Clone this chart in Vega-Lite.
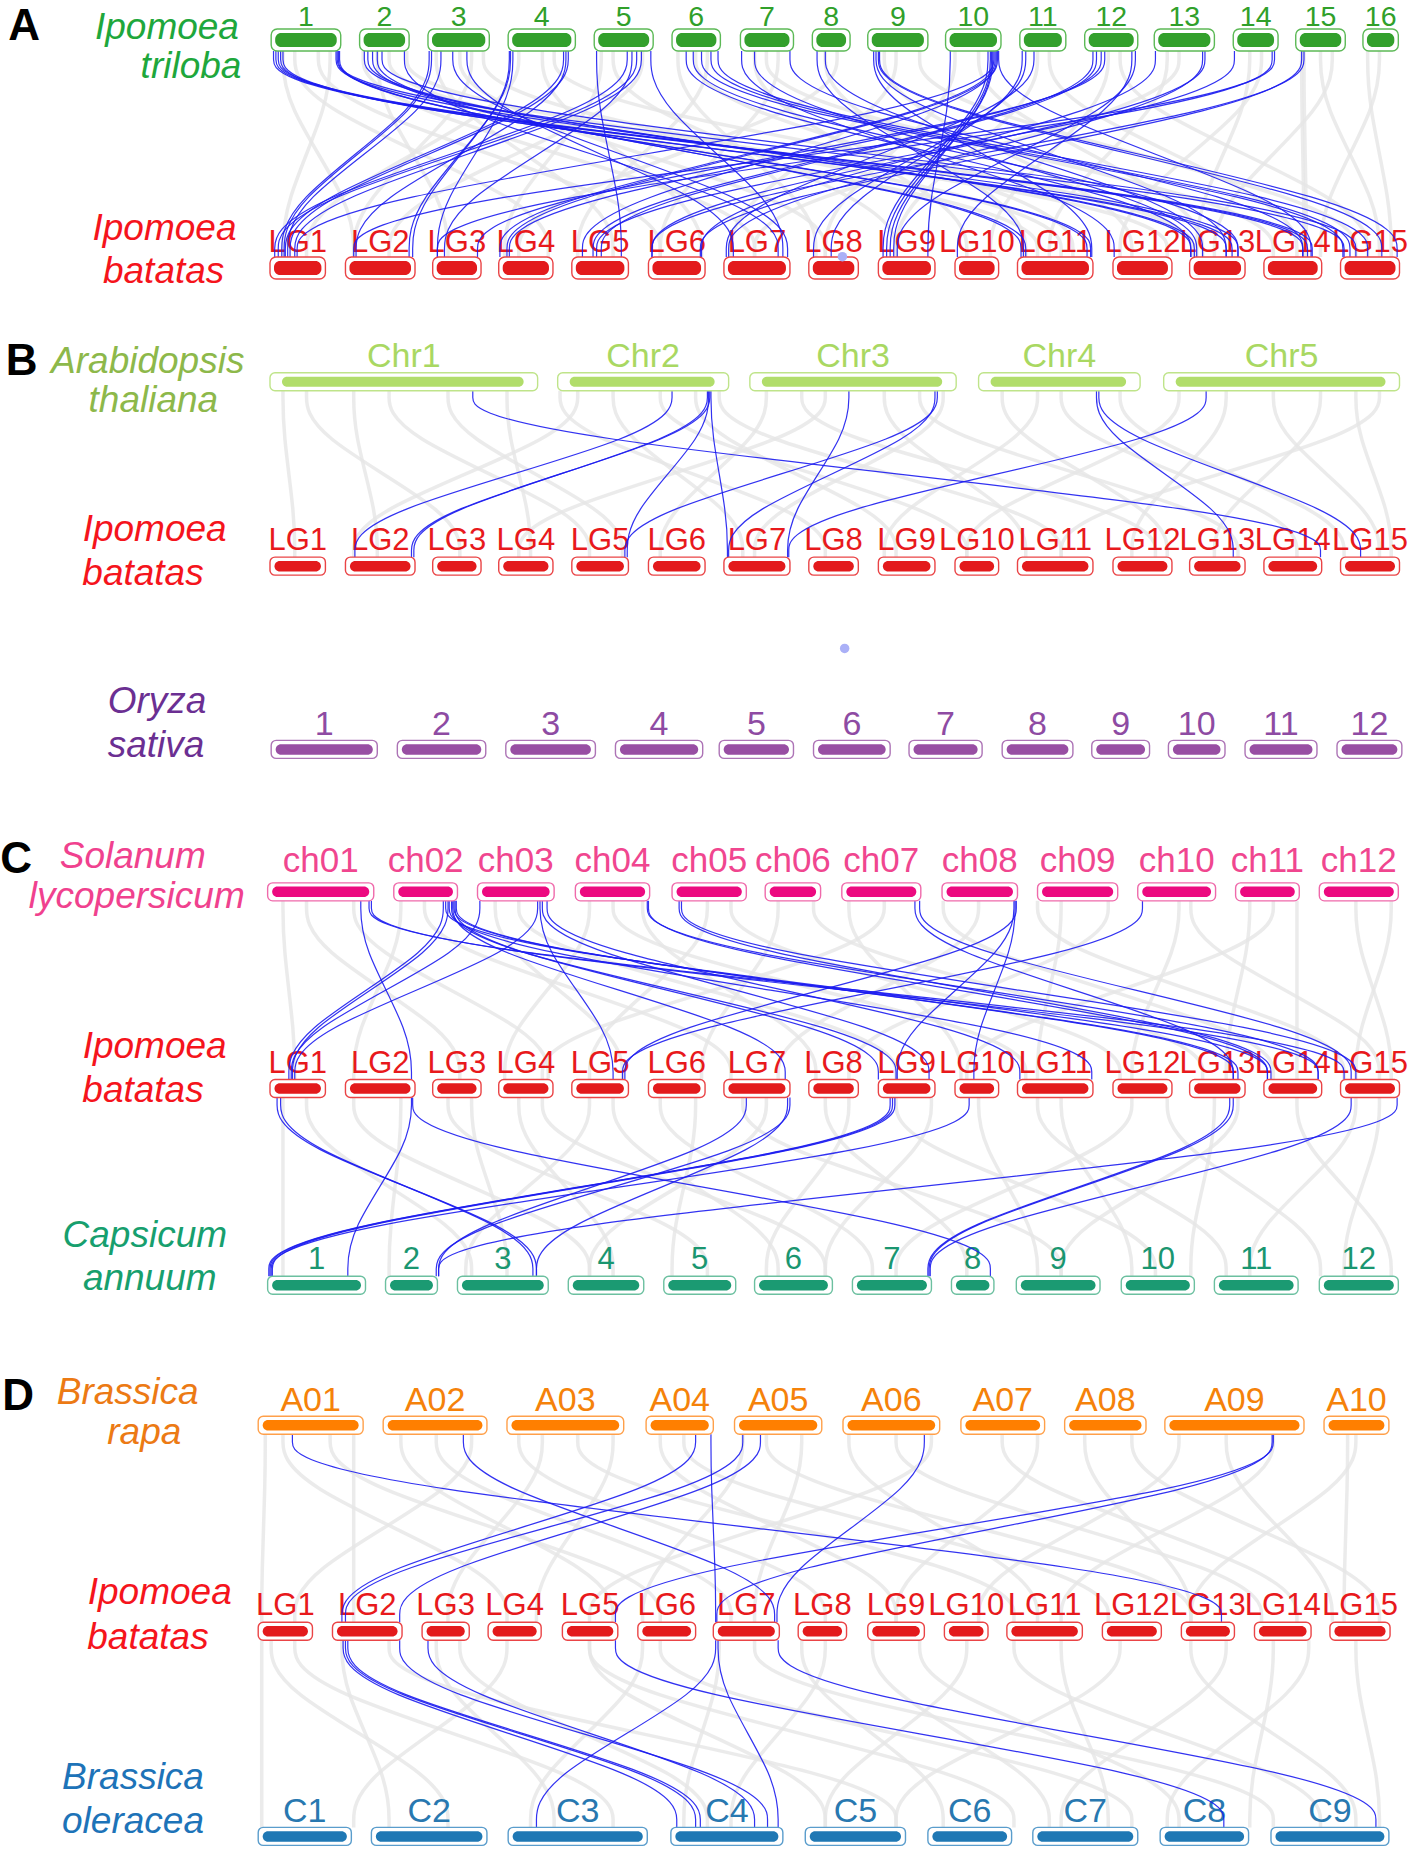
{
"$schema":"https://vega.github.io/schema/vega-lite/v6.json",
"width":1416,"height":1849,"padding":0,"autosize":{"type":"none"},"background":"white",
"config":{"view":{"stroke":null},"font":"Liberation Sans"},
"datasets":{
"sec":[
{"s":"A","ys":[43.2,86.9,174.3,218],"o":[0,1,2,3]},
{"s":"B","ys":[331.3,366.6,437.2,472.5],"o":[0,1,2,3]},
{"s":"C1","ys":[763.9,801.8,877.6,915.5],"o":[0,1,2,3]},
{"s":"C2","ys":[930.7,968.6,1044.4,1082.3],"o":[0,1,2,3]},
{"s":"D1","ys":[1216.3,1256.2,1335.9,1375.8],"o":[0,1,2,3]},
{"s":"D2","ys":[1391,1430.7,1510,1549.7],"o":[0,1,2,3]}
],
"tracks":[
{"tr":"A1","y":33.9},{"tr":"A2","y":227.3},{"tr":"B1","y":323.7},{"tr":"B2","y":480.1},{"tr":"B3","y":635.5},
{"tr":"C1","y":756.3},{"tr":"C2","y":923.1},{"tr":"C3","y":1089.9},{"tr":"D1","y":1208.7},{"tr":"D2","y":1383.4},{"tr":"D3","y":1557.3}
],
"chr":[
{"tr":"A1","sp":"tri","n":"1","a":230,"b":289},{"tr":"A1","sp":"tri","n":"2","a":305,"b":347},{"tr":"A1","sp":"tri","n":"3","a":363,"b":415},{"tr":"A1","sp":"tri","n":"4","a":431,"b":488},
{"tr":"A1","sp":"tri","n":"5","a":504,"b":554},{"tr":"A1","sp":"tri","n":"6","a":570,"b":611},{"tr":"A1","sp":"tri","n":"7","a":628,"b":673},{"tr":"A1","sp":"tri","n":"8","a":689,"b":721},
{"tr":"A1","sp":"tri","n":"9","a":736,"b":787},{"tr":"A1","sp":"tri","n":"10","a":802,"b":849},{"tr":"A1","sp":"tri","n":"11","a":865,"b":904},{"tr":"A1","sp":"tri","n":"12","a":920,"b":965},
{"tr":"A1","sp":"tri","n":"13","a":979,"b":1030},{"tr":"A1","sp":"tri","n":"14","a":1046,"b":1084},{"tr":"A1","sp":"tri","n":"15","a":1099,"b":1141},{"tr":"A1","sp":"tri","n":"16","a":1156,"b":1186},
{"tr":"A2","sp":"bat","n":"LG1","a":229,"b":276},{"tr":"A2","sp":"bat","n":"LG2","a":293,"b":352},{"tr":"A2","sp":"bat","n":"LG3","a":367,"b":408},{"tr":"A2","sp":"bat","n":"LG4","a":423,"b":469},{"tr":"A2","sp":"bat","n":"LG5","a":485,"b":533},
{"tr":"A2","sp":"bat","n":"LG6","a":550,"b":598},{"tr":"A2","sp":"bat","n":"LG7","a":614,"b":670},{"tr":"A2","sp":"bat","n":"LG8","a":686,"b":728},{"tr":"A2","sp":"bat","n":"LG9","a":745,"b":793},{"tr":"A2","sp":"bat","n":"LG10","a":810,"b":847},
{"tr":"A2","sp":"bat","n":"LG11","a":863,"b":927},{"tr":"A2","sp":"bat","n":"LG12","a":944,"b":994},{"tr":"A2","sp":"bat","n":"LG13","a":1009,"b":1056},{"tr":"A2","sp":"bat","n":"LG14","a":1072,"b":1121},{"tr":"A2","sp":"bat","n":"LG15","a":1137,"b":1187},
{"tr":"B1","sp":"ara","n":"Chr1","a":229,"b":456},{"tr":"B1","sp":"ara","n":"Chr2","a":473,"b":618},{"tr":"B1","sp":"ara","n":"Chr3","a":636,"b":811},{"tr":"B1","sp":"ara","n":"Chr4","a":830,"b":967},{"tr":"B1","sp":"ara","n":"Chr5","a":987,"b":1187},
{"tr":"B2","sp":"bat","n":"LG1","a":229,"b":276},{"tr":"B2","sp":"bat","n":"LG2","a":293,"b":352},{"tr":"B2","sp":"bat","n":"LG3","a":367,"b":408},{"tr":"B2","sp":"bat","n":"LG4","a":423,"b":469},{"tr":"B2","sp":"bat","n":"LG5","a":485,"b":533},
{"tr":"B2","sp":"bat","n":"LG6","a":550,"b":598},{"tr":"B2","sp":"bat","n":"LG7","a":614,"b":670},{"tr":"B2","sp":"bat","n":"LG8","a":686,"b":728},{"tr":"B2","sp":"bat","n":"LG9","a":745,"b":793},{"tr":"B2","sp":"bat","n":"LG10","a":810,"b":847},
{"tr":"B2","sp":"bat","n":"LG11","a":863,"b":927},{"tr":"B2","sp":"bat","n":"LG12","a":944,"b":994},{"tr":"B2","sp":"bat","n":"LG13","a":1009,"b":1056},{"tr":"B2","sp":"bat","n":"LG14","a":1072,"b":1121},{"tr":"B2","sp":"bat","n":"LG15","a":1137,"b":1187},
{"tr":"B3","sp":"ory","n":"1","a":230,"b":320},{"tr":"B3","sp":"ory","n":"2","a":337,"b":412},{"tr":"B3","sp":"ory","n":"3","a":429,"b":505},{"tr":"B3","sp":"ory","n":"4","a":522,"b":596},
{"tr":"B3","sp":"ory","n":"5","a":610,"b":673},{"tr":"B3","sp":"ory","n":"6","a":690,"b":755},{"tr":"B3","sp":"ory","n":"7","a":771,"b":833},{"tr":"B3","sp":"ory","n":"8","a":850,"b":910},
{"tr":"B3","sp":"ory","n":"9","a":926,"b":975},{"tr":"B3","sp":"ory","n":"10","a":991,"b":1039},{"tr":"B3","sp":"ory","n":"11","a":1056,"b":1117},{"tr":"B3","sp":"ory","n":"12","a":1134,"b":1189},
{"tr":"C1","sp":"sol","n":"ch01","a":227,"b":317},{"tr":"C1","sp":"sol","n":"ch02","a":334,"b":388},{"tr":"C1","sp":"sol","n":"ch03","a":405,"b":470},{"tr":"C1","sp":"sol","n":"ch04","a":488,"b":551},
{"tr":"C1","sp":"sol","n":"ch05","a":570,"b":633},{"tr":"C1","sp":"sol","n":"ch06","a":649,"b":696},{"tr":"C1","sp":"sol","n":"ch07","a":714,"b":781},{"tr":"C1","sp":"sol","n":"ch08","a":799,"b":863},
{"tr":"C1","sp":"sol","n":"ch09","a":880,"b":948},{"tr":"C1","sp":"sol","n":"ch10","a":965,"b":1031},{"tr":"C1","sp":"sol","n":"ch11","a":1048,"b":1102},{"tr":"C1","sp":"sol","n":"ch12","a":1119,"b":1186},
{"tr":"C2","sp":"bat","n":"LG1","a":229,"b":276},{"tr":"C2","sp":"bat","n":"LG2","a":293,"b":352},{"tr":"C2","sp":"bat","n":"LG3","a":367,"b":408},{"tr":"C2","sp":"bat","n":"LG4","a":423,"b":469},{"tr":"C2","sp":"bat","n":"LG5","a":485,"b":533},
{"tr":"C2","sp":"bat","n":"LG6","a":550,"b":598},{"tr":"C2","sp":"bat","n":"LG7","a":614,"b":670},{"tr":"C2","sp":"bat","n":"LG8","a":686,"b":728},{"tr":"C2","sp":"bat","n":"LG9","a":745,"b":793},{"tr":"C2","sp":"bat","n":"LG10","a":810,"b":847},
{"tr":"C2","sp":"bat","n":"LG11","a":863,"b":927},{"tr":"C2","sp":"bat","n":"LG12","a":944,"b":994},{"tr":"C2","sp":"bat","n":"LG13","a":1009,"b":1056},{"tr":"C2","sp":"bat","n":"LG14","a":1072,"b":1121},{"tr":"C2","sp":"bat","n":"LG15","a":1137,"b":1187},
{"tr":"C3","sp":"cap","n":"1","a":227,"b":310},{"tr":"C3","sp":"cap","n":"2","a":327,"b":371},{"tr":"C3","sp":"cap","n":"3","a":388,"b":465},{"tr":"C3","sp":"cap","n":"4","a":482,"b":546},
{"tr":"C3","sp":"cap","n":"5","a":563,"b":624},{"tr":"C3","sp":"cap","n":"6","a":640,"b":706},{"tr":"C3","sp":"cap","n":"7","a":723,"b":790},{"tr":"C3","sp":"cap","n":"8","a":807,"b":843},
{"tr":"C3","sp":"cap","n":"9","a":862,"b":933},{"tr":"C3","sp":"cap","n":"10","a":951,"b":1013},{"tr":"C3","sp":"cap","n":"11","a":1030,"b":1101},{"tr":"C3","sp":"cap","n":"12","a":1119,"b":1186},
{"tr":"D1","sp":"rap","n":"A01","a":219,"b":308},{"tr":"D1","sp":"rap","n":"A02","a":325,"b":413},{"tr":"D1","sp":"rap","n":"A03","a":430,"b":529},{"tr":"D1","sp":"rap","n":"A04","a":548,"b":605},{"tr":"D1","sp":"rap","n":"A05","a":623,"b":697},
{"tr":"D1","sp":"rap","n":"A06","a":715,"b":797},{"tr":"D1","sp":"rap","n":"A07","a":815,"b":886},{"tr":"D1","sp":"rap","n":"A08","a":903,"b":972},{"tr":"D1","sp":"rap","n":"A09","a":988,"b":1106},{"tr":"D1","sp":"rap","n":"A10","a":1123,"b":1178},
{"tr":"D2","sp":"bat","n":"LG1","a":219,"b":265},{"tr":"D2","sp":"bat","n":"LG2","a":282,"b":341},{"tr":"D2","sp":"bat","n":"LG3","a":358,"b":398},{"tr":"D2","sp":"bat","n":"LG4","a":414,"b":459},{"tr":"D2","sp":"bat","n":"LG5","a":477,"b":524},
{"tr":"D2","sp":"bat","n":"LG6","a":541,"b":590},{"tr":"D2","sp":"bat","n":"LG7","a":605,"b":661},{"tr":"D2","sp":"bat","n":"LG8","a":677,"b":718},{"tr":"D2","sp":"bat","n":"LG9","a":736,"b":784},{"tr":"D2","sp":"bat","n":"LG10","a":801,"b":838},
{"tr":"D2","sp":"bat","n":"LG11","a":854,"b":918},{"tr":"D2","sp":"bat","n":"LG12","a":935,"b":985},{"tr":"D2","sp":"bat","n":"LG13","a":1002,"b":1047},{"tr":"D2","sp":"bat","n":"LG14","a":1064,"b":1112},{"tr":"D2","sp":"bat","n":"LG15","a":1128,"b":1179},
{"tr":"D3","sp":"ole","n":"C1","a":219,"b":298},{"tr":"D3","sp":"ole","n":"C2","a":315,"b":413},{"tr":"D3","sp":"ole","n":"C3","a":431,"b":549},{"tr":"D3","sp":"ole","n":"C4","a":569,"b":664},{"tr":"D3","sp":"ole","n":"C5","a":683,"b":768},
{"tr":"D3","sp":"ole","n":"C6","a":787,"b":858},{"tr":"D3","sp":"ole","n":"C7","a":876,"b":965},{"tr":"D3","sp":"ole","n":"C8","a":984,"b":1059},{"tr":"D3","sp":"ole","n":"C9","a":1078,"b":1178}
],
"grey":[
{"s":"A","x":[240,240,300,300]},{"s":"A","x":[250,250,465,465]},{"s":"A","x":[270,270,560,560]},{"s":"A","x":[280,280,240,240]},{"s":"A","x":[308,308,640,640]},
{"s":"A","x":[320,320,380,380]},{"s":"A","x":[330,330,880,880]},{"s":"A","x":[345,345,990,990]},{"s":"A","x":[370,370,520,520]},{"s":"A","x":[390,390,700,700]},
{"s":"A","x":[400,400,300,300]},{"s":"A","x":[410,410,900,900]},{"s":"A","x":[440,440,260,260]},{"s":"A","x":[460,460,595,595]},{"s":"A","x":[470,470,1012,1012]},
{"s":"A","x":[510,510,428,428]},{"s":"A","x":[520,520,760,760]},{"s":"A","x":[545,545,330,330]},{"s":"A","x":[575,575,692,692]},{"s":"A","x":[590,590,910,910]},
{"s":"A","x":[600,600,490,490]},{"s":"A","x":[640,640,820,820]},{"s":"A","x":[650,650,1080,1080]},{"s":"A","x":[660,660,560,560]},{"s":"A","x":[700,700,870,870]},
{"s":"A","x":[710,710,440,440]},{"s":"A","x":[750,750,960,960]},{"s":"A","x":[760,760,620,620]},{"s":"A","x":[780,780,1150,1150]},{"s":"A","x":[810,810,700,700]},
{"s":"A","x":[830,830,1020,1020]},{"s":"A","x":[880,880,760,760]},{"s":"A","x":[890,890,1100,1100]},{"s":"A","x":[940,940,840,840]},{"s":"A","x":[950,950,1160,1160]},
{"s":"A","x":[990,990,890,890]},{"s":"A","x":[1000,1000,640,640]},{"s":"A","x":[1060,1060,1015,1015]},{"s":"A","x":[1070,1070,950,950]},{"s":"A","x":[1104,1104,1106,1106]},
{"s":"A","x":[1106,1106,1108,1108]},{"s":"A","x":[1120,1120,1170,1170]},{"s":"A","x":[1130,1130,1030,1030]},{"s":"A","x":[1160,1160,1180,1180]},{"s":"A","x":[1170,1170,1120,1120]},
{"s":"B","x":[240,240,250,250]},{"s":"B","x":[260,260,390,390]},{"s":"B","x":[300,300,320,320]},{"s":"B","x":[330,330,500,500]},{"s":"B","x":[380,380,528,528]},
{"s":"B","x":[430,430,450,450]},{"s":"B","x":[475,475,700,700]},{"s":"B","x":[490,490,300,300]},{"s":"B","x":[520,520,630,630]},{"s":"B","x":[560,560,820,820]},
{"s":"B","x":[590,590,760,760]},{"s":"B","x":[610,610,900,900]},{"s":"B","x":[650,650,560,560]},{"s":"B","x":[680,680,980,980]},{"s":"B","x":[700,700,440,440]},
{"s":"B","x":[750,750,870,870]},{"s":"B","x":[780,780,1050,1050]},{"s":"B","x":[800,800,640,640]},{"s":"B","x":[850,850,990,990]},{"s":"B","x":[880,880,750,750]},
{"s":"B","x":[900,900,1100,1100]},{"s":"B","x":[950,950,1140,1140]},{"s":"B","x":[1000,1000,820,820]},{"s":"B","x":[1040,1040,960,960]},{"s":"B","x":[1080,1080,1170,1170]},
{"s":"B","x":[1120,1120,1030,1030]},{"s":"B","x":[1150,1150,1180,1180]},{"s":"B","x":[1170,1170,900,900]},
{"s":"C1","x":[240,240,250,250]},{"s":"C1","x":[260,260,390,390]},{"s":"C1","x":[300,300,465,465]},{"s":"C1","x":[340,340,300,300]},{"s":"C1","x":[360,360,620,620]},
{"s":"C1","x":[420,420,528,528]},{"s":"C1","x":[440,440,760,760]},{"s":"C1","x":[500,500,428,428]},{"s":"C1","x":[520,520,870,870]},{"s":"C1","x":[545,545,692,692]},
{"s":"C1","x":[600,600,500,500]},{"s":"C1","x":[620,620,950,950]},{"s":"C1","x":[660,660,595,595]},{"s":"C1","x":[690,690,1020,1020]},{"s":"C1","x":[720,720,815,815]},
{"s":"C1","x":[750,750,460,460]},{"s":"C1","x":[800,800,1080,1080]},{"s":"C1","x":[830,830,660,660]},{"s":"C1","x":[880,880,1140,1140]},{"s":"C1","x":[900,900,880,880]},
{"s":"C1","x":[940,940,720,720]},{"s":"C1","x":[1000,1000,960,960]},{"s":"C1","x":[1010,1010,1170,1170]},{"s":"C1","x":[1060,1060,1040,1040]},{"s":"C1","x":[1080,1080,820,820]},
{"s":"C1","x":[1100,1100,1100,1100]},{"s":"C1","x":[1150,1150,1180,1180]},{"s":"C1","x":[1180,1180,1150,1150]},
{"s":"C2","x":[240,240,240,240]},{"s":"C2","x":[260,260,400,400]},{"s":"C2","x":[300,300,500,500]},{"s":"C2","x":[340,340,330,330]},{"s":"C2","x":[380,380,600,600]},
{"s":"C2","x":[400,400,430,430]},{"s":"C2","x":[440,440,520,520]},{"s":"C2","x":[460,460,700,700]},{"s":"C2","x":[500,500,395,395]},{"s":"C2","x":[520,520,660,660]},
{"s":"C2","x":[560,560,740,740]},{"s":"C2","x":[590,590,570,570]},{"s":"C2","x":[630,630,900,900]},{"s":"C2","x":[650,650,500,500]},{"s":"C2","x":[700,700,820,820]},
{"s":"C2","x":[720,720,650,650]},{"s":"C2","x":[760,760,980,980]},{"s":"C2","x":[790,790,700,700]},{"s":"C2","x":[830,830,880,880]},{"s":"C2","x":[880,880,1040,1040]},
{"s":"C2","x":[900,900,960,960]},{"s":"C2","x":[960,960,760,760]},{"s":"C2","x":[990,990,1120,1120]},{"s":"C2","x":[1030,1030,1010,1010]},{"s":"C2","x":[1050,1050,900,900]},
{"s":"C2","x":[1100,1100,1180,1180]},{"s":"C2","x":[1150,1150,1060,1060]},{"s":"C2","x":[1170,1170,1140,1140]},
{"s":"D1","x":[225,225,222,222]},{"s":"D1","x":[240,240,430,430]},{"s":"D1","x":[280,280,560,560]},{"s":"D1","x":[300,300,300,300]},{"s":"D1","x":[340,340,520,520]},
{"s":"D1","x":[370,370,620,620]},{"s":"D1","x":[400,400,250,250]},{"s":"D1","x":[440,440,700,700]},{"s":"D1","x":[460,460,380,380]},{"s":"D1","x":[490,490,860,860]},
{"s":"D1","x":[520,520,455,455]},{"s":"D1","x":[560,560,760,760]},{"s":"D1","x":[580,580,940,940]},{"s":"D1","x":[630,630,545,545]},{"s":"D1","x":[650,650,1010,1010]},
{"s":"D1","x":[680,680,640,640]},{"s":"D1","x":[720,720,880,880]},{"s":"D1","x":[760,760,1070,1070]},{"s":"D1","x":[790,790,500,500]},{"s":"D1","x":[850,850,1100,1100]},
{"s":"D1","x":[880,880,760,760]},{"s":"D1","x":[920,920,1010,1010]},{"s":"D1","x":[960,960,1170,1170]},{"s":"D1","x":[1000,1000,830,830]},{"s":"D1","x":[1040,1040,1130,1130]},
{"s":"D1","x":[1080,1080,900,900]},{"s":"D1","x":[1143,1143,1140,1140]},{"s":"D1","x":[1150,1150,1010,1010]},
{"s":"D2","x":[222,222,222,222]},{"s":"D2","x":[230,230,380,380]},{"s":"D2","x":[250,250,520,520]},{"s":"D2","x":[290,290,330,330]},{"s":"D2","x":[330,330,760,760]},
{"s":"D2","x":[370,370,470,470]},{"s":"D2","x":[390,390,600,600]},{"s":"D2","x":[430,430,300,300]},{"s":"D2","x":[500,500,860,860]},{"s":"D2","x":[500,500,700,700]},
{"s":"D2","x":[545,545,450,450]},{"s":"D2","x":[560,560,960,960]},{"s":"D2","x":[610,610,580,580]},{"s":"D2","x":[640,640,1080,1080]},{"s":"D2","x":[680,680,800,800]},
{"s":"D2","x":[700,700,620,620]},{"s":"D2","x":[740,740,890,890]},{"s":"D2","x":[780,780,1000,1000]},{"s":"D2","x":[820,820,700,700]},{"s":"D2","x":[860,860,1120,1120]},
{"s":"D2","x":[900,900,940,940]},{"s":"D2","x":[950,950,760,760]},{"s":"D2","x":[1010,1010,1150,1150]},{"s":"D2","x":[1040,1040,900,900]},{"s":"D2","x":[1080,1080,1060,1060]},
{"s":"D2","x":[1110,1110,990,990]},{"s":"D2","x":[1150,1150,1170,1170]}
],
"blue":[
{"s":"A","x":[232,232,1105,1105]},{"s":"A","x":[234,234,1109,1109]},{"s":"A","x":[236,236,1113,1113]},{"s":"A","x":[238,238,1045,1045]},{"s":"A","x":[240,240,1040,1040]},
{"s":"A","x":[285,285,1050,1050]},{"s":"A","x":[287,287,925,925]},{"s":"A","x":[288,288,922,922]},{"s":"A","x":[286,286,1140,1140]},{"s":"A","x":[309,309,1010,1010]},
{"s":"A","x":[312,312,1013,1013]},{"s":"A","x":[316,316,870,870]},{"s":"A","x":[320,320,866,866]},{"s":"A","x":[324,324,1150,1150]},{"s":"A","x":[343,343,660,660]},
{"s":"A","x":[364,364,239,239]},{"s":"A","x":[366,366,241,241]},{"s":"A","x":[374,374,244,244]},{"s":"A","x":[384,384,668,668]},{"s":"A","x":[396,396,622,622]},
{"s":"A","x":[432,432,350,350]},{"s":"A","x":[433,433,347,347]},{"s":"A","x":[435,435,371,371]},{"s":"A","x":[478,478,242,242]},{"s":"A","x":[480,480,302,302]},
{"s":"A","x":[482,482,246,246]},{"s":"A","x":[506,506,527,527]},{"s":"A","x":[532,532,233,233]},{"s":"A","x":[536,536,377,377]},{"s":"A","x":[540,540,236,236]},
{"s":"A","x":[544,544,250,250]},{"s":"A","x":[552,552,664,664]},{"s":"A","x":[582,582,1010,1010]},{"s":"A","x":[588,588,1050,1050]},{"s":"A","x":[595,595,1139,1139]},
{"s":"A","x":[603,603,1145,1145]},{"s":"A","x":[609,609,1160,1160]},{"s":"A","x":[629,629,945,945]},{"s":"A","x":[640,640,1015,1015]},{"s":"A","x":[670,670,1105,1105]},
{"s":"A","x":[693,693,868,868]},{"s":"A","x":[700,700,1020,1020]},{"s":"A","x":[741,741,926,926]},{"s":"A","x":[743,743,1040,1040]},{"s":"A","x":[746,746,1185,1185]},
{"s":"A","x":[745,745,1172,1172]},{"s":"A","x":[806,806,787,787]},{"s":"A","x":[838,838,749,749]},{"s":"A","x":[840,840,752,752]},{"s":"A","x":[842,842,755,755]},
{"s":"A","x":[843,843,252,252]},{"s":"A","x":[844,844,424,424]},{"s":"A","x":[845,845,494,494]},{"s":"A","x":[846,846,430,430]},{"s":"A","x":[847,847,1112,1112]},
{"s":"A","x":[841,841,758,758]},{"s":"A","x":[867,867,705,705]},{"s":"A","x":[870,870,690,690]},{"s":"A","x":[877,877,616,616]},{"s":"A","x":[927,927,503,503]},
{"s":"A","x":[930,930,510,510]},{"s":"A","x":[934,934,432,432]},{"s":"A","x":[937,937,405,405]},{"s":"A","x":[963,963,761,761]},{"s":"A","x":[960,960,812,812]},
{"s":"A","x":[980,980,595,595]},{"s":"A","x":[1022,1022,553,553]},{"s":"A","x":[1020,1020,618,618]},{"s":"A","x":[1047,1047,506,506]},{"s":"A","x":[1079,1079,371,371]},
{"s":"A","x":[1081,1081,300,300]},{"s":"A","x":[1104,1104,594,594]},{"s":"A","x":[1106,1106,553,553]},
{"s":"B","x":[401,401,1120,1120]},{"s":"B","x":[570,570,301,301]},{"s":"B","x":[600,600,351,351]},{"s":"B","x":[602,602,349,349]},{"s":"B","x":[601,601,532,532]},
{"s":"B","x":[603,603,617,617]},{"s":"B","x":[720,720,668,668]},{"s":"B","x":[793,793,618,618]},{"s":"B","x":[795,795,530,530]},{"s":"B","x":[1023,1023,669,669]},
{"s":"B","x":[930,930,1046,1046]},{"s":"B","x":[932,932,1154,1154]},
{"s":"C1","x":[306,306,349,349]},{"s":"C1","x":[313,313,1140,1140]},{"s":"C1","x":[315,315,1118,1118]},{"s":"C1","x":[376,376,245,245]},{"s":"C1","x":[380,380,248,248]},
{"s":"C1","x":[383,383,760,760]},{"s":"C1","x":[385,385,1050,1050]},{"s":"C1","x":[387,387,1046,1046]},{"s":"C1","x":[378,378,1075,1075]},{"s":"C1","x":[381,381,926,926]},
{"s":"C1","x":[384,384,666,666]},{"s":"C1","x":[386,386,745,745]},{"s":"C1","x":[407,407,247,247]},{"s":"C1","x":[456,456,250,250]},{"s":"C1","x":[458,458,520,520]},
{"s":"C1","x":[460,460,788,788]},{"s":"C1","x":[464,464,865,865]},{"s":"C1","x":[549,549,1118,1118]},{"s":"C1","x":[550,550,1075,1075]},{"s":"C1","x":[576,576,1078,1078]},
{"s":"C1","x":[578,578,1150,1150]},{"s":"C1","x":[776,776,1046,1046]},{"s":"C1","x":[780,780,1146,1146]},{"s":"C1","x":[860,860,761,761]},{"s":"C1","x":[861,861,826,826]},
{"s":"C1","x":[862,862,530,530]},{"s":"C1","x":[969,969,528,528]},
{"s":"C2","x":[235,235,455,455]},{"s":"C2","x":[238,238,452,452]},{"s":"C2","x":[349,349,295,295]},{"s":"C2","x":[350,350,840,840]},{"s":"C2","x":[633,633,372,372]},
{"s":"C2","x":[668,668,455,455]},{"s":"C2","x":[755,755,228,228]},{"s":"C2","x":[757,757,229,229]},{"s":"C2","x":[759,759,231,231]},{"s":"C2","x":[822,822,230,230]},
{"s":"C2","x":[1043,1043,787,787]},{"s":"C2","x":[1046,1046,788,788]},{"s":"C2","x":[1146,1146,789,789]},{"s":"C2","x":[1185,1185,372,372]},{"s":"C2","x":[670,670,370,370]},
{"s":"D1","x":[248,248,1036,1036]},{"s":"D1","x":[393,393,657,657]},{"s":"D1","x":[590,590,290,290]},{"s":"D1","x":[603,603,607,607]},{"s":"D1","x":[630,630,293,293]},
{"s":"D1","x":[645,645,339,339]},{"s":"D1","x":[784,784,659,659]},{"s":"D1","x":[1079,1079,608,608]},{"s":"D1","x":[1080,1080,522,522]},
{"s":"D2","x":[291,291,574,574]},{"s":"D2","x":[293,293,590,590]},{"s":"D2","x":[295,295,594,594]},{"s":"D2","x":[339,339,651,651]},{"s":"D2","x":[363,363,640,640]},
{"s":"D2","x":[522,522,1038,1038]},{"s":"D2","x":[660,660,1167,1167]},{"s":"D2","x":[607,607,455,455]},{"s":"D2","x":[609,609,660,660]}
],
"spl":[
{"t":"Ipomoea","x":141.6,"y":33.3,"sp":"tri"},{"t":"triloba","x":162,"y":66.4,"sp":"tri"},
{"t":"Ipomoea","x":139.5,"y":203.6,"sp":"bat"},{"t":"batatas","x":138.8,"y":240.3,"sp":"bat"},
{"t":"Arabidopsis","x":125.3,"y":316.6,"sp":"ara"},{"t":"thaliana","x":130.1,"y":349.2,"sp":"ara"},
{"t":"Ipomoea","x":131.2,"y":459,"sp":"bat"},{"t":"batatas","x":121.3,"y":496.2,"sp":"bat"},
{"t":"Oryza","x":133.2,"y":605,"sp":"ory"},{"t":"sativa","x":132.3,"y":641.8,"sp":"ory"},
{"t":"Solanum","x":112.6,"y":736.5,"sp":"sol"},{"t":"lycopersicum","x":116,"y":770.4,"sp":"sol"},
{"t":"Ipomoea","x":131.2,"y":897.6,"sp":"bat"},{"t":"batatas","x":121.3,"y":934.4,"sp":"bat"},
{"t":"Capsicum","x":122.8,"y":1057.4,"sp":"cap"},{"t":"annuum","x":127,"y":1094.2,"sp":"cap"},
{"t":"Brassica","x":108.3,"y":1190.3,"sp":"rap"},{"t":"rapa","x":122.4,"y":1224.2,"sp":"rap"},
{"t":"Ipomoea","x":135.5,"y":1359.9,"sp":"bat"},{"t":"batatas","x":125.5,"y":1398.1,"sp":"bat"},
{"t":"Brassica","x":112.8,"y":1516.8,"sp":"ole"},{"t":"oleracea","x":112.8,"y":1554.1,"sp":"ole"}
],
"letters":[{"t":"A","x":20.4,"y":34},{"t":"B","x":18.3,"y":318},{"t":"C","x":13.6,"y":740.7},{"t":"D","x":15.3,"y":1196}],
"dots":[{"x":714.5,"y":217.7},{"x":716.4,"y":549.9}]
},
"layer":[
{"data":{"name":"grey"},
 "transform":[{"window":[{"op":"row_number","as":"id"}]},{"lookup":"s","from":{"data":{"name":"sec"},"key":"s","fields":["ys","o"]}},{"flatten":["x","ys","o"],"as":["px","py","po"]}],
 "mark":{"type":"line","interpolate":"basis","color":"#e6e6e6","strokeWidth":3.5,"opacity":0.8},
 "encoding":{"x":{"field":"px","type":"quantitative","scale":{"domain":[0,1201],"nice":false,"zero":false},"axis":null},
  "y":{"field":"py","type":"quantitative","scale":{"domain":[0,1568],"reverse":true,"nice":false,"zero":false},"axis":null},
  "detail":{"field":"id","type":"nominal"},"order":{"field":"po","type":"quantitative"}}},
{"data":{"name":"chr"},
 "transform":[{"filter":{"field":"sp","equal":"tri"}},{"lookup":"tr","from":{"data":{"name":"tracks"},"key":"tr","fields":["y"]}},{"fold":["a","b"],"as":["k","xv"]}],
 "mark":{"type":"text","fontSize":28.5,"dy":-14,"baseline":"alphabetic","align":"center","font":"Liberation Sans"},
 "encoding":{"x":{"aggregate":"mean","field":"xv","type":"quantitative","scale":{"domain":[0,1201],"nice":false,"zero":false},"axis":null},
  "y":{"field":"y","type":"quantitative","scale":{"domain":[0,1568],"reverse":true,"nice":false,"zero":false},"axis":null},
  "detail":{"field":"tr","type":"nominal"},"text":{"field":"n","type":"nominal"},
  "color":{"field":"sp","type":"nominal","scale":{"domain":["tri"],"range":["#30a02a"]},"legend":null}}},
{"data":{"name":"chr"},
 "transform":[{"filter":{"field":"sp","oneOf":["bat","cap"]}},{"lookup":"tr","from":{"data":{"name":"tracks"},"key":"tr","fields":["y"]}},{"fold":["a","b"],"as":["k","xv"]}],
 "mark":{"type":"text","fontSize":31,"dy":-16,"baseline":"alphabetic","align":"center","font":"Liberation Sans"},
 "encoding":{"x":{"aggregate":"mean","field":"xv","type":"quantitative","scale":{"domain":[0,1201],"nice":false,"zero":false},"axis":null},
  "y":{"field":"y","type":"quantitative","scale":{"domain":[0,1568],"reverse":true,"nice":false,"zero":false},"axis":null},
  "detail":{"field":"tr","type":"nominal"},"text":{"field":"n","type":"nominal"},
  "color":{"field":"sp","type":"nominal","scale":{"domain":["bat","cap"],"range":["#e8191c","#1a9670"]},"legend":null}}},
{"data":{"name":"chr"},
 "transform":[{"filter":{"field":"sp","oneOf":["ara","ory","rap","ole"]}},{"lookup":"tr","from":{"data":{"name":"tracks"},"key":"tr","fields":["y"]}},{"fold":["a","b"],"as":["k","xv"]}],
 "mark":{"type":"text","fontSize":34,"dy":-14.5,"baseline":"alphabetic","align":"center","font":"Liberation Sans"},
 "encoding":{"x":{"aggregate":"mean","field":"xv","type":"quantitative","scale":{"domain":[0,1201],"nice":false,"zero":false},"axis":null},
  "y":{"field":"y","type":"quantitative","scale":{"domain":[0,1568],"reverse":true,"nice":false,"zero":false},"axis":null},
  "detail":{"field":"tr","type":"nominal"},"text":{"field":"n","type":"nominal"},
  "color":{"field":"sp","type":"nominal","scale":{"domain":["ara","ory","rap","ole"],"range":["#a9d862","#8e4ba3","#f5820a","#2878b0"]},"legend":null}}},
{"data":{"name":"chr"},
 "transform":[{"filter":{"field":"sp","equal":"sol"}},{"lookup":"tr","from":{"data":{"name":"tracks"},"key":"tr","fields":["y"]}},{"fold":["a","b"],"as":["k","xv"]}],
 "mark":{"type":"text","fontSize":35,"dy":-20,"baseline":"alphabetic","align":"center","font":"Liberation Sans"},
 "encoding":{"x":{"aggregate":"mean","field":"xv","type":"quantitative","scale":{"domain":[0,1201],"nice":false,"zero":false},"axis":null},
  "y":{"field":"y","type":"quantitative","scale":{"domain":[0,1568],"reverse":true,"nice":false,"zero":false},"axis":null},
  "detail":{"field":"tr","type":"nominal"},"text":{"field":"n","type":"nominal"},
  "color":{"field":"sp","type":"nominal","scale":{"domain":["sol"],"range":["#f0468f"]},"legend":null}}},
{"data":{"name":"blue"},
 "transform":[{"window":[{"op":"row_number","as":"id"}]},{"lookup":"s","from":{"data":{"name":"sec"},"key":"s","fields":["ys","o"]}},{"flatten":["x","ys","o"],"as":["px","py","po"]}],
 "mark":{"type":"line","interpolate":"basis","color":"#1c1cf0","strokeWidth":1.2,"opacity":0.9},
 "encoding":{"x":{"field":"px","type":"quantitative","scale":{"domain":[0,1201],"nice":false,"zero":false},"axis":null},
  "y":{"field":"py","type":"quantitative","scale":{"domain":[0,1568],"reverse":true,"nice":false,"zero":false},"axis":null},
  "detail":{"field":"id","type":"nominal"},"order":{"field":"po","type":"quantitative"}}},
{"data":{"name":"chr"},
 "transform":[{"filter":{"field":"tr","oneOf":["A1","A2"]}},{"lookup":"tr","from":{"data":{"name":"tracks"},"key":"tr","fields":["y"]}}],
 "mark":{"type":"rect","height":22,"cornerRadius":6,"fill":"white","strokeWidth":1.4},
 "encoding":{"x":{"field":"a","type":"quantitative","scale":{"domain":[0,1201],"nice":false,"zero":false},"axis":null},"x2":{"field":"b"},
  "y":{"field":"y","type":"quantitative","scale":{"domain":[0,1568],"reverse":true,"nice":false,"zero":false},"axis":null},
  "stroke":{"field":"sp","type":"nominal","scale":{"domain":["tri","bat","ara","ory","sol","cap","rap","ole"],"range":["#5cb956","#ea4446","#bfe48a","#ad74b6","#ef6aab","#6cc0a0","#ffa04a","#5a9dcc"]},"legend":null}}},
{"data":{"name":"chr"},
 "transform":[{"filter":{"not":{"field":"tr","oneOf":["A1","A2"]}}},{"lookup":"tr","from":{"data":{"name":"tracks"},"key":"tr","fields":["y"]}}],
 "mark":{"type":"rect","height":18,"cornerRadius":5,"fill":"white","strokeWidth":1.4},
 "encoding":{"x":{"field":"a","type":"quantitative","scale":{"domain":[0,1201],"nice":false,"zero":false},"axis":null},"x2":{"field":"b"},
  "y":{"field":"y","type":"quantitative","scale":{"domain":[0,1568],"reverse":true,"nice":false,"zero":false},"axis":null},
  "stroke":{"field":"sp","type":"nominal","scale":{"domain":["tri","bat","ara","ory","sol","cap","rap","ole"],"range":["#5cb956","#ea4446","#bfe48a","#ad74b6","#ef6aab","#6cc0a0","#ffa04a","#5a9dcc"]},"legend":null}}},
{"data":{"name":"chr"},
 "transform":[{"filter":{"field":"tr","oneOf":["A1","A2"]}},{"lookup":"tr","from":{"data":{"name":"tracks"},"key":"tr","fields":["y"]}}],
 "mark":{"type":"rect","height":14,"cornerRadius":6,"xOffset":4,"x2Offset":-4},
 "encoding":{"x":{"field":"a","type":"quantitative","scale":{"domain":[0,1201],"nice":false,"zero":false},"axis":null},"x2":{"field":"b"},
  "y":{"field":"y","type":"quantitative","scale":{"domain":[0,1568],"reverse":true,"nice":false,"zero":false},"axis":null},
  "fill":{"field":"sp","type":"nominal","scale":{"domain":["tri","bat","ara","ory","sol","cap","rap","ole"],"range":["#33a02c","#e31a1c","#b1dd6b","#984ea3","#ec0a80","#1b9a72","#ff7f00","#1f78b4"]},"legend":null}}},
{"data":{"name":"chr"},
 "transform":[{"filter":{"not":{"field":"tr","oneOf":["A1","A2","B1"]}}},{"lookup":"tr","from":{"data":{"name":"tracks"},"key":"tr","fields":["y"]}}],
 "mark":{"type":"rect","height":10.5,"cornerRadius":5.25,"xOffset":4.5,"x2Offset":-4.5},
 "encoding":{"x":{"field":"a","type":"quantitative","scale":{"domain":[0,1201],"nice":false,"zero":false},"axis":null},"x2":{"field":"b"},
  "y":{"field":"y","type":"quantitative","scale":{"domain":[0,1568],"reverse":true,"nice":false,"zero":false},"axis":null},
  "fill":{"field":"sp","type":"nominal","scale":{"domain":["tri","bat","ara","ory","sol","cap","rap","ole"],"range":["#33a02c","#e31a1c","#b1dd6b","#984ea3","#ec0a80","#1b9a72","#ff7f00","#1f78b4"]},"legend":null}}},
{"data":{"name":"chr"},
 "transform":[{"filter":{"field":"tr","equal":"B1"}},{"lookup":"tr","from":{"data":{"name":"tracks"},"key":"tr","fields":["y"]}}],
 "mark":{"type":"rect","height":10,"cornerRadius":5,"xOffset":12,"x2Offset":-14},
 "encoding":{"x":{"field":"a","type":"quantitative","scale":{"domain":[0,1201],"nice":false,"zero":false},"axis":null},"x2":{"field":"b"},
  "y":{"field":"y","type":"quantitative","scale":{"domain":[0,1568],"reverse":true,"nice":false,"zero":false},"axis":null},
  "fill":{"field":"sp","type":"nominal","scale":{"domain":["tri","bat","ara","ory","sol","cap","rap","ole"],"range":["#33a02c","#e31a1c","#b1dd6b","#984ea3","#ec0a80","#1b9a72","#ff7f00","#1f78b4"]},"legend":null}}},
{"data":{"name":"spl"},
 "mark":{"type":"text","fontSize":37,"fontStyle":"italic","baseline":"alphabetic","align":"center","font":"Liberation Sans"},
 "encoding":{"x":{"field":"x","type":"quantitative","scale":{"domain":[0,1201],"nice":false,"zero":false},"axis":null},
  "y":{"field":"y","type":"quantitative","scale":{"domain":[0,1568],"reverse":true,"nice":false,"zero":false},"axis":null},
  "text":{"field":"t","type":"nominal"},
  "color":{"field":"sp","type":"nominal","scale":{"domain":["tri","bat","ara","ory","sol","cap","rap","ole"],"range":["#1ea73c","#f5141c","#8db84a","#6b2f92","#f0418e","#179f6e","#ec7a14","#1d73b8"]},"legend":null}}},
{"data":{"name":"letters"},
 "mark":{"type":"text","fontSize":44,"fontWeight":"bold","baseline":"alphabetic","align":"center","color":"#000000","font":"Liberation Sans"},
 "encoding":{"x":{"field":"x","type":"quantitative","scale":{"domain":[0,1201],"nice":false,"zero":false},"axis":null},
  "y":{"field":"y","type":"quantitative","scale":{"domain":[0,1568],"reverse":true,"nice":false,"zero":false},"axis":null},
  "text":{"field":"t","type":"nominal"}}},
{"data":{"name":"dots"},
 "mark":{"type":"circle","size":90,"color":"#aab0f7","opacity":1},
 "encoding":{"x":{"field":"x","type":"quantitative","scale":{"domain":[0,1201],"nice":false,"zero":false},"axis":null},
  "y":{"field":"y","type":"quantitative","scale":{"domain":[0,1568],"reverse":true,"nice":false,"zero":false},"axis":null}}}
],
"resolve":{"scale":{"color":"independent"}}
}
